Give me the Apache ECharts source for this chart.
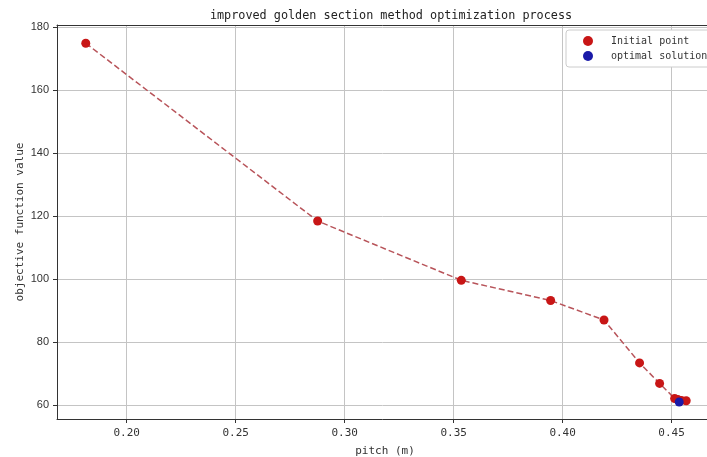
<!DOCTYPE html>
<html>
<head>
<meta charset="utf-8">
<script src="https://cdn.jsdelivr.net/npm/echarts@6/dist/echarts.min.js"></script>
<style>
  html, body { margin: 0; padding: 0; background: #fff; }
  #chart { width: 707px; height: 457px; }
</style>
</head>
<body>
<div id="chart"></div>
<script>
// search history
const pitch = [0.1812, 0.2876, 0.3535, 0.3945, 0.4190, 0.4353, 0.4445, 0.4514, 0.4528, 0.4545, 0.4567];
const objective = [174.8, 118.4, 99.6, 93.2, 87.0, 73.4, 66.9, 62.1, 61.8, 61.5, 61.4];
const optPitch = [0.4535];
const optValue = [61.0];

const xTicks = [0.20, 0.25, 0.30, 0.35, 0.40, 0.45];
const yTicks = [60, 80, 100, 120, 140, 160, 180];

const mono = 'DejaVu Sans Mono';

const chart = echarts.init(document.getElementById('chart'));

const initialData = pitch.map((p, i) => [p, objective[i]]);
const optData = optPitch.map((p, i) => [p, optValue[i]]);

const grid = { color: '#c4c4c4', width: 1 };

chart.setOption({
  animation: false,
  title: {
    text: 'improved golden section method optimization process',
    left: 386, top: 5, textAlign: 'center',
    textStyle: { fontFamily: mono, fontSize: 11.8, fontWeight: 'normal', color: '#222' }
  },
  legend: {
    orient: 'vertical',
    left: 566, top: 30,
    padding: [6, 10, 6, 17],
    itemGap: 5,
    itemWidth: 10, itemHeight: 10,
    borderColor: '#ccc', borderWidth: 1, borderRadius: 3,
    backgroundColor: '#fff',
    textStyle: { fontFamily: mono, fontSize: 10, color: '#333', padding: [0, 0, 0, 13] },
    data: [
      { name: 'Initial point', icon: 'circle' },
      { name: 'optimal solution', icon: 'circle' }
    ]
  },
  grid: { left: 57, right: -6, top: 25, bottom: 38, outerBoundsMode: 'none' },
  xAxis: [{
    type: 'value',
    min: 0.168, max: 0.469,
    name: 'pitch (m)', nameLocation: 'middle', nameGap: 27,
    nameTextStyle: { fontFamily: mono, fontSize: 11, color: '#333' },
    axisLine: { show: true, lineStyle: { color: '#333', width: 1 } },
    axisTick: { show: true, length: 4, customValues: xTicks, lineStyle: { color: '#333' } },
    axisLabel: {
      customValues: xTicks,
      fontFamily: mono, fontSize: 11, color: '#333', margin: 9,
      formatter: v => v.toFixed(2)
    },
    splitLine: { show: true, lineStyle: grid }
  }, {
    // top edge of the frame
    type: 'value', position: 'top',
    min: 0.168, max: 0.469,
    axisLine: { show: true, lineStyle: { color: '#333', width: 1 } },
    axisTick: { show: false }, axisLabel: { show: false }, splitLine: { show: false }
  }],
  yAxis: {
    type: 'value',
    min: 55.6, max: 180.6,
    name: 'objective function value', nameLocation: 'middle', nameGap: 31,
    nameMoveOverlap: false,
    nameTextStyle: { fontFamily: mono, fontSize: 11, color: '#333' },
    axisLine: { show: true, lineStyle: { color: '#333', width: 1 } },
    axisTick: { show: true, length: 4, customValues: yTicks, lineStyle: { color: '#333' } },
    axisLabel: {
      customValues: yTicks,
      fontFamily: 'Liberation Sans', fontSize: 11, color: '#333', margin: 8
    },
    splitLine: { show: true, lineStyle: grid }
  },
  series: [
    {
      name: 'path',
      type: 'line',
      data: initialData,
      symbol: 'none',
      lineStyle: { color: '#b8545a', width: 1.5, type: [6, 3] },
      z: 2
    },
    {
      name: 'Initial point',
      type: 'scatter',
      data: initialData,
      symbolSize: 9,
      itemStyle: { color: '#c81616', opacity: 1 },
      z: 3
    },
    {
      name: 'optimal solution',
      type: 'scatter',
      data: optData,
      symbolSize: 9,
      itemStyle: { color: '#1a1aa8', opacity: 1 },
      z: 4
    }
  ]
});
</script>
</body>
</html>
